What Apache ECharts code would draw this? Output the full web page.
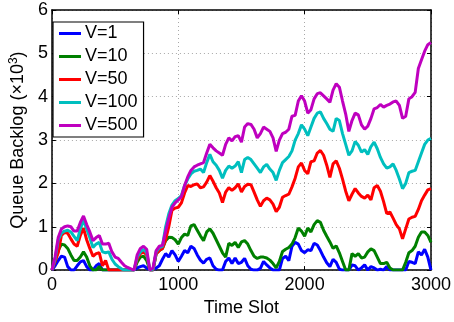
<!DOCTYPE html>
<html>
<head>
<meta charset="utf-8">
<script src="https://cdn.jsdelivr.net/npm/echarts@6/dist/echarts.min.js"></script>
<style>
  html, body { margin: 0; padding: 0; background: #fff; }
  #chart { width: 454px; height: 322px; }
</style>
</head>
<body>
<div id="chart"></div>
<script>
// Sampling instants of the simulation (every 25 slots)
const timeSlots = Array.from({ length: 121 }, (_, i) => i * 25);

// Queue backlog (x10^3) for each control parameter V
const backlogV1 = [
  0, 0.1, 0.22, 0.32, 0.3, 0.08, 0, 0, 0.1, 0.19, 0.22, 0.08, 0, 0, 0.1, 0.15, 0, 0, 0, 0,
  0, 0, 0, 0, 0, 0, 0, 0.05, 0.08, 0.1, 0.05, 0, 0, 0.05, 0.1, 0.25, 0.38, 0.3, 0.45, 0.35,
  0.2, 0.32, 0.45, 0.4, 0.55, 0.5, 0.35, 0.23, 0.16, 0.25, 0.28, 0.1, 0.02, 0, 0, 0.2, 0.28, 0.15, 0.28, 0.15,
  0.18, 0.27, 0.1, 0.02, 0, 0, 0.04, 0.2, 0.12, 0.05, 0, 0, 0, 0.27, 0.32, 0.22, 0.55, 0.64, 0.6, 0.45,
  0.4, 0.47, 0.45, 0.62, 0.58, 0.45, 0.3, 0.17, 0.08, 0.25, 0.18, 0.02, 0, 0, 0, 0.12, 0.1, 0, 0.05, 0.12,
  0, 0.08, 0.05, 0, 0.02, 0, 0.08, 0, 0, 0, 0, 0, 0, 0.2, 0.18, 0.15, 0.42, 0.35, 0.48, 0.3,
  0
];
const backlogV10 = [
  0, 0.2, 0.45, 0.6, 0.58, 0.5, 0.35, 0.22, 0.22, 0.3, 0.42, 0.3, 0.1, 0, 0, 0.08, 0, 0, 0, 0,
  0, 0, 0, 0, 0, 0, 0, 0.18, 0.3, 0.32, 0.22, 0, 0, 0.38, 0.45, 0.5, 0.68, 0.76, 0.75, 0.7,
  0.6, 0.75, 0.83, 0.8, 1.02, 1.05, 0.92, 0.79, 0.68, 0.88, 0.95, 0.85, 0.7, 0.55, 0.4, 0.3, 0.62, 0.57, 0.64, 0.52,
  0.65, 0.68, 0.6, 0.45, 0.32, 0.27, 0.3, 0.3, 0.28, 0.23, 0.15, 0.05, 0.2, 0.43, 0.48, 0.52, 0.6, 0.75, 0.97, 0.9,
  0.78, 0.97, 0.88, 1.05, 1.14, 1.1, 0.92, 0.78, 0.65, 0.5, 0.56, 0.4, 0.2, 0, 0, 0.38, 0.32, 0.38, 0.28, 0.3,
  0.42, 0.49, 0.45, 0.3, 0.15, 0.15, 0.18, 0.05, 0, 0, 0, 0, 0.18, 0.4, 0.45, 0.55, 0.76, 0.88, 0.88, 0.8,
  0.64
];
const backlogV50 = [
  0, 0.2, 0.4, 0.8, 0.87, 0.85, 0.72, 0.6, 0.55, 0.8, 0.97, 0.7, 0.5, 0.32, 0.38, 0.4, 0.1, 0.22, 0, 0,
  0, 0, 0, 0, 0, 0, 0, 0.25, 0.38, 0.42, 0.35, 0, 0, 0.38, 0.45, 0.5, 0.7, 1.0, 1.38, 1.43,
  1.45, 1.55, 1.78, 1.95, 1.93, 1.97, 1.99, 1.9, 1.92, 2.03, 2.18, 2.05, 1.9, 1.78, 1.56, 1.8, 1.9, 1.84, 1.9, 1.99,
  1.8, 1.93, 1.98, 1.97, 1.8, 1.62, 1.47, 1.6, 1.66, 1.62, 1.52, 1.35, 1.45, 1.68, 1.72, 1.75, 1.92, 2.12, 2.38, 2.47,
  2.3, 2.22, 2.5, 2.52, 2.7, 2.76, 2.65, 2.42, 2.14, 2.45, 2.52, 2.35, 2.1, 1.82, 1.6, 1.75, 1.88, 1.78, 1.7, 1.66,
  1.73, 1.62, 1.9, 1.95, 1.82, 1.58, 1.3, 1.34, 1.2, 1.05, 0.95, 0.72, 0.95, 1.18, 1.22, 1.24, 1.4, 1.6, 1.73, 1.85,
  1.88
];
const backlogV100 = [
  0, 0.25, 0.7, 0.85, 0.9, 0.92, 0.88, 0.78, 0.68, 0.95, 1.15, 0.95, 0.75, 0.52, 0.6, 0.64, 0.42, 0.4, 0.42, 0.25,
  0.14, 0.08, 0.03, 0, 0, 0, 0, 0.3, 0.42, 0.48, 0.4, 0, 0.02, 0.42, 0.52, 0.55, 1.0, 1.3, 1.5, 1.6,
  1.65, 1.72, 1.95, 2.1, 2.22, 2.28, 2.3, 2.33, 2.25, 2.48, 2.67, 2.5, 2.42, 2.3, 2.12, 2.3, 2.4, 2.35, 2.4, 2.5,
  2.25, 2.55, 2.6, 2.55, 2.45, 2.35, 2.25, 2.38, 2.44, 2.33, 2.25, 2.07, 2.3, 2.48, 2.55, 2.62, 2.75, 3.0, 3.15, 3.35,
  3.25, 3.1, 3.3, 3.5, 3.62, 3.65, 3.5, 3.38, 3.25, 3.2, 3.5, 3.45, 3.15, 2.9, 2.65, 2.75, 2.97, 2.88, 2.72, 2.78,
  2.67, 2.85, 2.95, 2.8, 2.6, 2.45, 2.35, 2.38, 2.45, 2.3, 2.1, 1.88, 2.0, 2.25, 2.28, 2.3, 2.5, 2.7, 2.9, 3.0,
  3.04
];
const backlogV500 = [
  0, 0.3, 0.75, 0.95, 1.0, 1.02, 1.0, 0.9, 0.9, 1.1, 1.25, 1.05, 0.88, 0.68, 0.75, 0.8, 0.6, 0.6, 0.62, 0.42,
  0.3, 0.27, 0.18, 0.1, 0.06, 0.03, 0, 0.35, 0.5, 0.55, 0.48, 0, 0.05, 0.45, 0.55, 0.57, 0.9, 1.2, 1.45, 1.55,
  1.62, 1.7, 1.95, 2.15, 2.3, 2.38, 2.42, 2.45, 2.48, 2.7, 2.9, 2.82, 2.75, 2.7, 2.65, 2.9, 3.05, 2.98, 3.08, 3.1,
  2.95, 3.3, 3.38, 3.36, 3.25, 3.05, 3.15, 3.3, 3.25, 3.2, 3.05, 2.74, 3.0, 3.15, 3.18, 3.25, 3.55, 3.57, 3.9, 4.02,
  3.9, 3.62, 3.7, 3.95, 4.07, 4.09, 4.02, 3.95, 3.87, 4.15, 4.3, 4.22, 3.9, 3.6, 3.2, 3.45, 3.62, 3.58, 3.35, 3.25,
  3.32, 3.5, 3.72, 3.75, 3.82, 3.76, 3.8, 3.83, 3.88, 3.9, 3.8, 3.5, 3.55, 3.95, 4.0, 4.1, 4.65, 4.85, 5.05, 5.2,
  5.25
];

const seriesNames = ['V=1', 'V=10', 'V=50', 'V=100', 'V=500'];
const seriesValues = [backlogV1, backlogV10, backlogV50, backlogV100, backlogV500];
const seriesColors = ['#0000ff', '#008000', '#ff0000', '#00bfbf', '#bf00bf'];

const xTicks = [0, 1000, 2000, 3000];
const yTicks = [0, 1, 2, 3, 4, 5, 6];

const FONT = 'Liberation Sans, Arial, Helvetica, sans-serif';
const FS = 18;

const chart = echarts.init(document.getElementById('chart'), null, { renderer: 'canvas' });

const boxLine = { show: true, onZero: false, lineStyle: { color: '#000', width: 1.5 } };
const gridDots = { show: true, lineStyle: { color: '#a8a8a8', type: [1, 3], width: 1 } };
const inTicks = { show: true, inside: true, length: 4, lineStyle: { color: '#000' } };

chart.setOption({
  animation: false,
  backgroundColor: '#fff',
  grid: { left: 48, right: 17, top: 10, bottom: 45, containLabel: false },
  legend: {
    data: seriesNames,
    orient: 'vertical',
    left: 53,
    top: 22,
    padding: [2, 6, 2, 6],
    itemGap: 4,
    itemWidth: 22,
    itemHeight: 3,
    icon: 'rect',
    backgroundColor: '#fff',
    borderColor: '#000',
    borderWidth: 1.2,
    textStyle: { fontFamily: FONT, fontSize: FS, color: '#000', lineHeight: 19, padding: [0, 0, 0, -1] }
  },
  xAxis: [
    {
      type: 'value', min: xTicks[0], max: xTicks[xTicks.length - 1], interval: 1000,
      name: 'Time Slot', nameLocation: 'middle', nameGap: 22,
      nameTextStyle: { fontFamily: FONT, fontSize: FS, color: '#000' },
      axisLine: boxLine,
      axisTick: inTicks,
      axisLabel: { fontFamily: FONT, fontSize: FS, color: '#000', margin: 6, formatter: v => String(v) },
      splitLine: gridDots
    },
    {
      type: 'value', position: 'top', min: xTicks[0], max: xTicks[xTicks.length - 1], interval: 1000,
      axisLine: boxLine, axisTick: inTicks,
      axisLabel: { show: false }, splitLine: { show: false }
    }
  ],
  yAxis: [
    {
      type: 'value', min: yTicks[0], max: yTicks[yTicks.length - 1], interval: 1,
      name: '{t|Queue Backlog (×10}{s|3}{t|)}', nameLocation: 'middle', nameGap: 19, nameRotate: 90,
      nameTextStyle: {
        fontFamily: FONT, fontSize: FS, color: '#000',
        rich: {
          t: { fontFamily: FONT, fontSize: FS, color: '#000' },
          s: { fontFamily: FONT, fontSize: 12, color: '#000', verticalAlign: 'top', padding: [0, 0, 8, 0] }
        }
      },
      axisLine: boxLine,
      axisTick: inTicks,
      axisLabel: { fontFamily: FONT, fontSize: FS, color: '#000', margin: 4, formatter: v => String(v) },
      splitLine: gridDots
    },
    {
      type: 'value', position: 'right', min: yTicks[0], max: yTicks[yTicks.length - 1], interval: 1,
      axisLine: boxLine, axisTick: inTicks,
      axisLabel: { show: false }, splitLine: { show: false }
    }
  ],
  series: seriesNames.map((name, k) => ({
    name,
    type: 'line',
    xAxisIndex: 0,
    yAxisIndex: 0,
    showSymbol: false,
    symbol: 'none',
    smooth: false,
    lineStyle: { color: seriesColors[k], width: 3 },
    itemStyle: { color: seriesColors[k] },
    z: 2 + k,
    data: timeSlots.map((t, i) => [t, seriesValues[k][i]])
  }))
});
</script>
</body>
</html>
